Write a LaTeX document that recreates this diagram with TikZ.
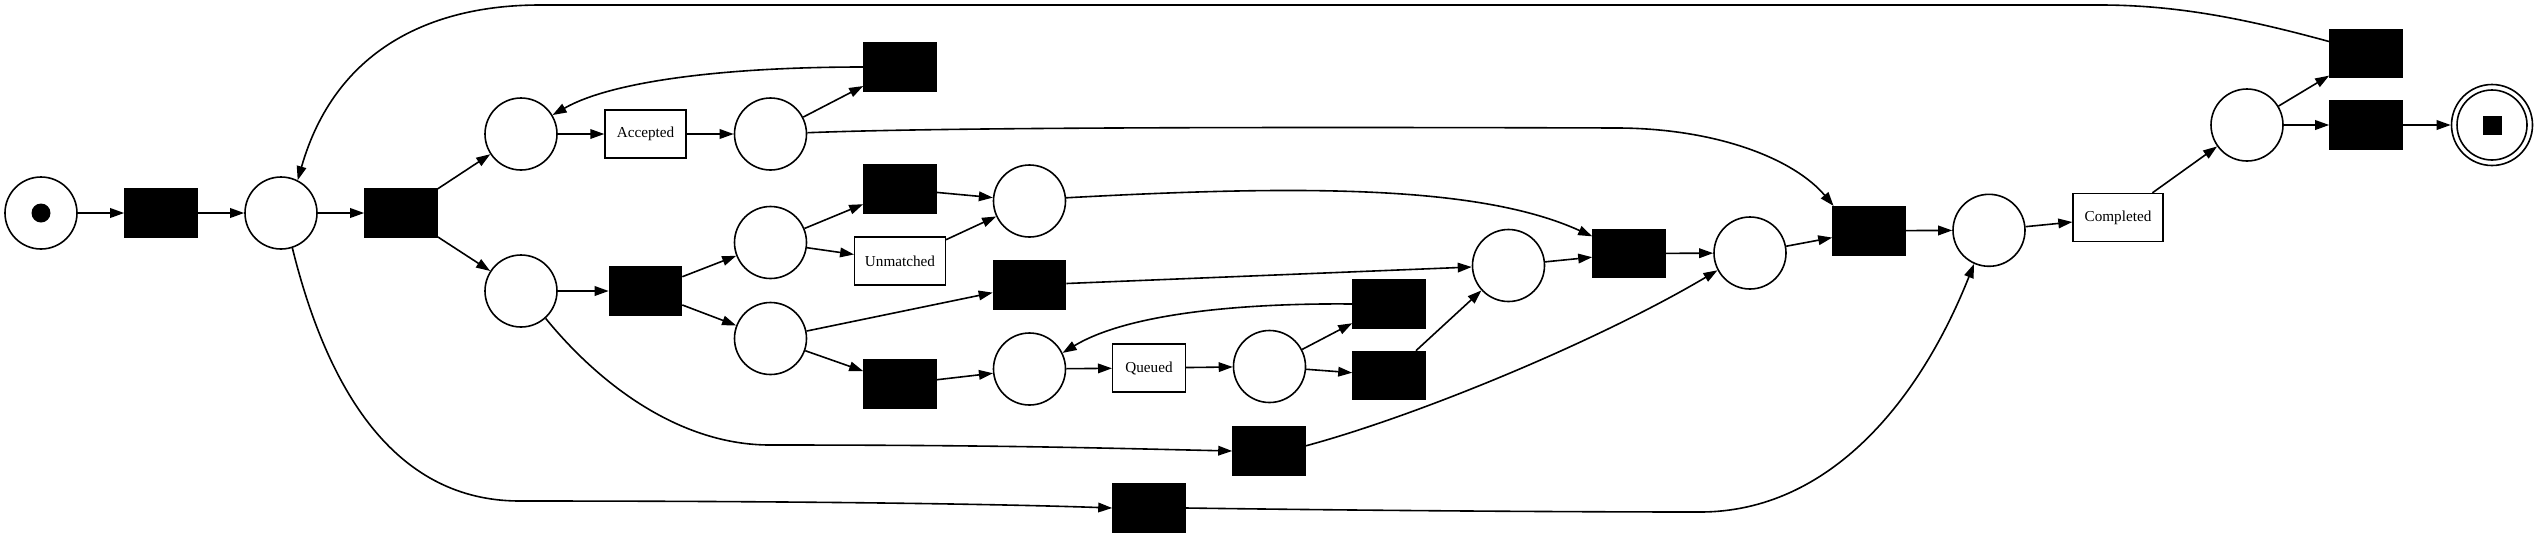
\documentclass[tikz,border=0pt]{standalone}
\usepackage{fontspec}
\setmainfont{Liberation Serif}
\usetikzlibrary{arrows.meta}
\begin{document}
\begin{tikzpicture}[x=0.5pt,y=-0.5pt,
  place/.style={circle,draw,line width=0.8pt,minimum size=36pt,inner sep=0pt},
  trans/.style={rectangle,draw,fill=black,line width=0.8pt,minimum width=36pt,minimum height=24pt,inner sep=0pt},
  lab/.style={rectangle,draw,fill=white,line width=0.7pt,minimum height=24pt,inner sep=0pt,font=\fontsize{7.6}{9}\selectfont},
  flow/.style={line width=0.8pt,-{Triangle[length=7pt,width=4.8pt]}}]
\useasboundingbox (0,0) rectangle (2539,537);
% places
\node[place] (p0) at (41,213) {};
\node[place] (p1) at (281,213) {};
\node[place] (pA) at (521,134) {};
\node[place] (pB) at (770.5,134) {};
\node[place] (pC) at (521,291) {};
\node[place] (pD) at (770.5,242.5) {};
\node[place] (pE) at (770.5,338.5) {};
\node[place] (pF) at (1029.5,201) {};
\node[place] (pH) at (1029.5,369) {};
\node[place] (pI) at (1269.5,366.5) {};
\node[place] (pG) at (1508.5,265.5) {};
\node[place] (pJ) at (1750,253) {};
\node[place] (pK) at (1989,230.3) {};
\node[place] (pL) at (2247,125) {};
\node[circle,draw,line width=0.8pt,minimum size=40.5pt,inner sep=0pt] (pEnd) at (2492,125) {};
\draw[line width=0.8pt] (pEnd.center) circle[radius=17.5pt];
\fill (p0.center) circle[radius=4.75pt];
\fill (pEnd.center) ++(-9.5,-9.5) rectangle ++(19,19);
% transitions
\node[trans] (t1) at (161,213) {};
\node[trans] (t2) at (401,213) {};
\node[trans] (t3) at (645.5,291) {};
\node[trans] (tA) at (900,67) {};
\node[trans] (tB) at (900,189) {};
\node[trans] (tC) at (1029.5,285) {};
\node[trans] (tD) at (900,384) {};
\node[trans] (tE) at (1389,304) {};
\node[trans] (tQ) at (1389,375.5) {};
\node[trans] (tH) at (1269,451) {};
\node[trans] (tI) at (1149,508) {};
\node[trans] (tG) at (1629,253.5) {};
\node[trans] (tF) at (1869,230.7) {};
\node[trans] (tJ) at (2366,53.5) {};
\node[trans] (tK) at (2366,125) {};
% labelled transitions
\node[lab,minimum width=40.5pt] (acc) at (645.5,134) {Accepted};
\node[lab,minimum width=45.25pt] (unm) at (900,261) {Unmatched};
\node[lab,minimum width=36.3pt] (que) at (1149,368) {Queued};
\node[lab,minimum width=45pt] (comp) at (2118,217.5) {Completed};
% arcs
\draw[flow] (p0) -- (t1);
\draw[flow] (t1) -- (p1);
\draw[flow] (p1) -- (t2);
\draw[flow] (t2) -- (pA);
\draw[flow] (t2) -- (pC);
\draw[flow] (pA) -- (acc);
\draw[flow] (acc) -- (pB);
\draw[flow] (pB) -- (tA);
\draw[flow] (tA.west) .. controls (720,67) and (610,82) .. (pA.31);
\draw[flow] (pB.2) .. controls (950,127) and (1300,127) .. (1620,128) .. controls (1720,129) and (1795,160) .. (tF.145);
\draw[flow] (pC) -- (t3);
\draw[flow] (t3) -- (pD);
\draw[flow] (t3) -- (pE);
\draw[flow] (pD) -- (tB);
\draw[flow] (pD) -- (unm);
\draw[flow] (tB) -- (pF);
\draw[flow] (unm) -- (pF);
\draw[flow] (pF.5) .. controls (1300,185) and (1480,185) .. (tG.155);
\draw[flow] (pE) -- (tC);
\draw[flow] (pE) -- (tD);
\draw[flow] (tC) -- (pG);
\draw[flow] (tD) -- (pH);
\draw[flow] (pH) -- (que);
\draw[flow] (que) -- (pI);
\draw[flow] (pI) -- (tE);
\draw[flow] (pI) -- (tQ);
\draw[flow] (tE.west) .. controls (1250,303) and (1130,312) .. (pH.26);
\draw[flow] (tQ) -- (pG);
\draw[flow] (pG) -- (tG);
\draw[flow] (tG) -- (pJ);
\draw[flow] (pC.-48) .. controls (600,385) and (680,445) .. (770,445) .. controls (1000,445) and (1100,448) .. (tH.west);
\draw[flow] (tH.8) .. controls (1420,415) and (1600,340) .. (pJ.208);
\draw[flow] (p1.-72) .. controls (330,400) and (400,500) .. (518,501) .. controls (800,501) and (1000,504) .. (tI.west);
\draw[flow] (tI.east) .. controls (1400,511) and (1600,512) .. (1700,512) .. controls (1830,512) and (1920,400) .. (pK.246);
\draw[flow] (pJ) -- (tF);
\draw[flow] (tF) -- (pK);
\draw[flow] (pK) -- (comp);
\draw[flow] (comp) -- (pL);
\draw[flow] (pL) -- (tJ);
\draw[flow] (pL) -- (tK);
\draw[flow] (tJ.162) .. controls (2250,20) and (2180,5) .. (2100,5) -- (540,5) .. controls (430,5) and (335,50) .. (p1.63);
\draw[flow] (tK) -- (pEnd);
\end{tikzpicture}
\end{document}
